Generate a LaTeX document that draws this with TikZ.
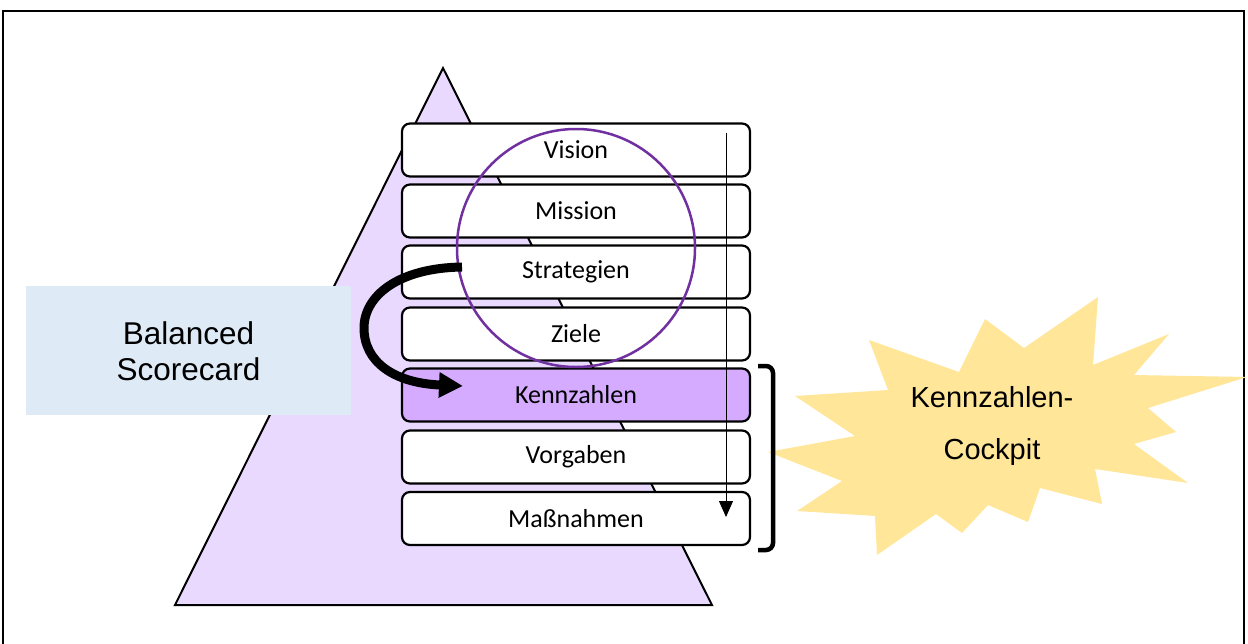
\documentclass[tikz,border=0pt]{standalone}
\usepackage{fontspec}
\setmainfont{Carlito}
\newfontfamily\arialfont{Liberation Sans}
\usetikzlibrary{arrows.meta}

\definecolor{pyramidfill}{HTML}{E9D9FF}
\definecolor{kpifill}{HTML}{D5ABFF}
\definecolor{bscfill}{HTML}{DEEBF7}
\definecolor{burstfill}{HTML}{FFE699}
\definecolor{ringcol}{HTML}{7030A0}

\tikzset{
  level/.style={draw=black, line width=2.2pt, rounded corners=8pt, fill=white,
    minimum width=348pt, minimum height=53pt, inner sep=0pt,
    font=\fontsize{26}{30}\selectfont},
  kpilevel/.style={level, fill=kpifill},
  bigsans/.style={font=\arialfont\fontsize{31.5}{36}\selectfont, align=center},
  burstsans/.style={font=\arialfont\fontsize{29}{52}\selectfont, align=center},
}

\begin{document}
\begin{tikzpicture}[x=1pt, y=-1pt]
\useasboundingbox (0,0) rectangle (1248,643);

% outer frame (open at the bottom edge)
\begin{scope}
  \clip (0,0) rectangle (1248,643);
  \draw[line width=2.5pt] (3,11) rectangle (1244,660);
\end{scope}

% pyramid
\draw[fill=pyramidfill, line width=2pt, line join=miter]
  (443,68) -- (712,605) -- (175,605) -- cycle;

% balanced scorecard label box
\node[fill=bscfill, minimum width=325pt, minimum height=129pt, inner sep=0pt]
  (bsc) at (188.5,350.5) {};
\node[bigsans] (bsctext) at (188.5,351) {Balanced\\Scorecard};

% stacked levels
\node[level]    (vision)  at (576,150)   {Vision};
\node[level]    (mission) at (576,211)   {Mission};
\node[level]    (strat)   at (576,272)   {Strategien};
\node[level]    (ziele)   at (576,334)   {Ziele};
\node[kpilevel] (kpi)     at (576,395)   {Kennzahlen};
\node[level]    (vorgab)  at (576,457)   {Vorgaben};
\node[level]    (massn)   at (576,518.5) {Maßnahmen};

% strategic ring
\node[draw=ringcol, line width=2.5pt, circle, minimum size=238pt, inner sep=0pt]
  (ring) at (576,248) {};

% top-down flow through the levels
\coordinate (flowtop) at (726,133);
\coordinate (flowend) at (726,517);
\draw[line width=1pt, -{Triangle[length=16pt,width=14pt]}] (flowtop) -- (flowend);

% bent arrow from strategies to key figures
\coordinate (bendstart) at (462,267);
\coordinate (bendend) at (463,386);
\draw[line width=9pt, -{Triangle[length=24pt,width=24pt]}]
  (bendstart) .. controls (398,268) and (364,296) .. (364,328)
  .. controls (364,362) and (394,383) .. (bendend);

% starburst
\draw[fill=burstfill, draw=none]
  (768,452) -- (855,436) -- (795,396) -- (888,390) -- (869,340) -- (959,372)
  -- (985,319) -- (1024,348) -- (1098,297) -- (1093,365) -- (1169,334)
  -- (1134,375) -- (1247,377) -- (1148,408) -- (1176,432) -- (1134,444)
  -- (1188,483) -- (1095,469) -- (1102,504) -- (1040,488) -- (1028,522)
  -- (988,505) -- (962,533) -- (936,514) -- (877,555) -- (875,516)
  -- (797,511) -- (842,481) -- cycle;
\node[burstsans] (cockpit) at (992,426) {Kennzahlen-\\Cockpit};

% bracket grouping the lower levels
\coordinate (brtop) at (758,366);
\coordinate (brbot) at (758,550);
\draw[line width=4.5pt, rounded corners=7pt] (brtop) -| (773,550) -- (brbot);

\end{tikzpicture}
\end{document}
